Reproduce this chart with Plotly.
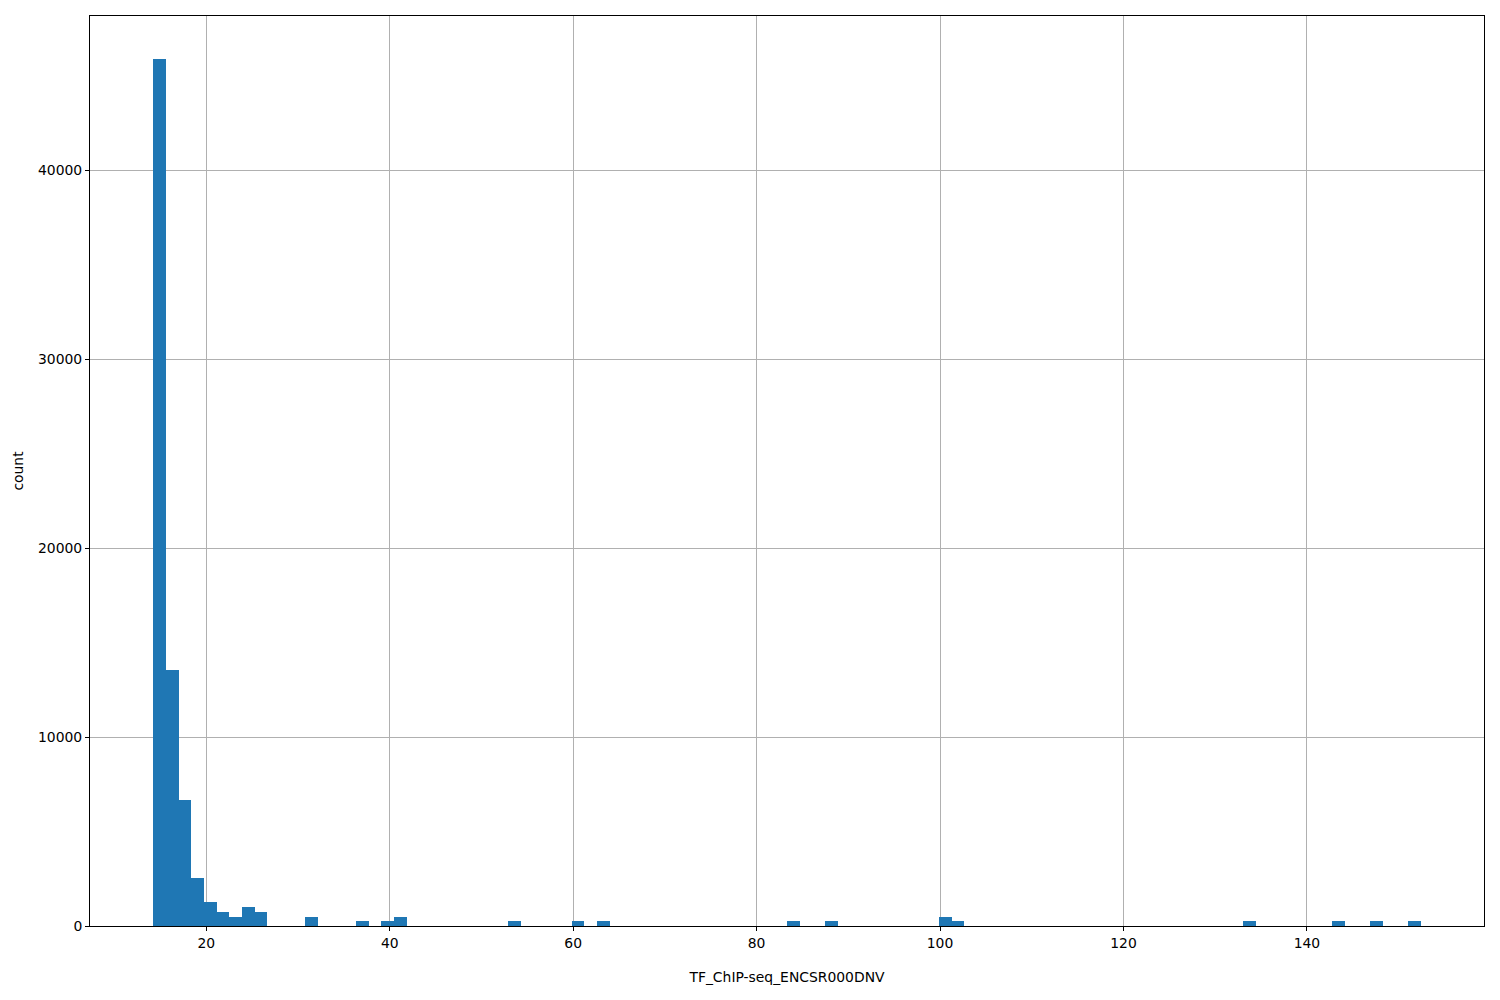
import plotly.graph_objects as go

# Histogram definition
bin_start = 14.23
bin_end = 152.4
n_bins = 100

# nonzero bins: index -> count
bin_index = [0, 1, 2, 3, 4, 5, 6, 7, 8, 12, 16, 18, 19, 28, 33, 35, 50, 53, 62, 63, 86, 93, 96, 99]
bin_count = [45870, 13550, 6670, 2540, 1270, 760, 500, 1010, 760, 500, 250, 250, 500, 250, 250, 250,
             250, 250, 500, 250, 250, 250, 250, 250]

x_ticks = [20, 40, 60, 80, 100, 120, 140]
y_ticks = [0, 10000, 20000, 30000, 40000]

width = (bin_end - bin_start) / n_bins
counts = [0] * n_bins
for i, c in zip(bin_index, bin_count):
    counts[i] = c
centers = [bin_start + (i + 0.5) * width for i in range(n_bins)]

fig = go.Figure(go.Bar(x=centers, y=counts, width=[width] * n_bins,
                       marker=dict(color="#1f77b4", line=dict(width=0)), showlegend=False))

span = bin_end - bin_start
ymax = max(counts) * 1.05
font = dict(family="DejaVu Sans", size=13.9, color="black")
axis_common = dict(showline=True, mirror=True, linecolor="black", linewidth=1,
                   ticks="outside", ticklen=4, tickcolor="black", tickwidth=1,
                   showgrid=True, gridcolor="#b0b0b0", gridwidth=1, zeroline=False,
                   layer="above traces", tickfont=font)

fig.update_layout(
    width=1500, height=1000,
    margin=dict(l=82, r=24, t=8, b=82),
    plot_bgcolor="white", paper_bgcolor="white",
    bargap=0, font=font,
    xaxis=dict(range=[bin_start - 0.05 * span, bin_end + 0.05 * span],
               tickvals=x_ticks, ticktext=[str(t) for t in x_ticks],
               title=dict(text="TF_ChIP-seq_ENCSR000DNV", font=font, standoff=22),
               **axis_common),
    yaxis=dict(range=[0, ymax], tickvals=y_ticks, ticktext=[str(t) for t in y_ticks],
               title=dict(text="count", font=font, standoff=11),
               **axis_common),
)

fig.write_html("out.html")
